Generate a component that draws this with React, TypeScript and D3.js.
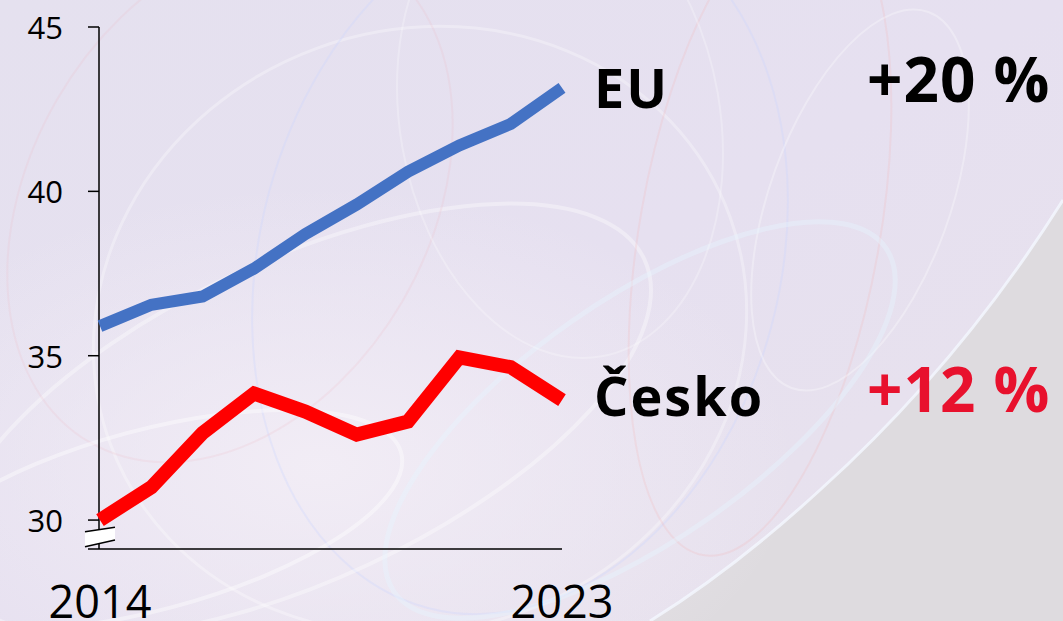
import React from "react";
import * as d3 from "d3";

const years = [2014, 2015, 2016, 2017, 2018, 2019, 2020, 2021, 2022, 2023];
const euValues = [35.9, 36.55, 36.8, 37.65, 38.7, 39.6, 40.6, 41.4, 42.05, 43.15];
const czValues = [30.0, 31.0, 32.65, 33.85, 33.3, 32.6, 33.0, 34.95, 34.65, 33.65];
const yTicks = [30, 35, 40, 45];
const xTickLabels = ["2014", "2023"];
const seriesLabels = ["EU", "Česko"];
const changeLabels = ["+20 %", "+12 %"];

const W = 1063;
const H = 621;

export default function App() {
  const x = d3.scaleLinear().domain([2014, 2023]).range([100, 562]);
  const y = d3.scaleLinear().domain([29.12, 45]).range([549, 27]);
  const line = d3
    .line<number>()
    .x((_, i) => x(years[i]))
    .y((d) => y(d));

  const arcs = [
    { cx: 420, cy: 330, rx: 330, ry: 300, rot: -20, c: "#ffffff", o: 0.3, w: 3 },
    { cx: 520, cy: 260, rx: 260, ry: 360, rot: 15, c: "#c9d4ff", o: 0.3, w: 2 },
    { cx: 300, cy: 420, rx: 380, ry: 160, rot: -25, c: "#ffffff", o: 0.35, w: 4 },
    { cx: 760, cy: 230, rx: 120, ry: 330, rot: 10, c: "#f4b0b0", o: 0.2, w: 2 },
    { cx: 860, cy: 200, rx: 90, ry: 200, rot: 20, c: "#ffffff", o: 0.3, w: 2 },
    { cx: 230, cy: 200, rx: 200, ry: 280, rot: 30, c: "#f0b8c0", o: 0.18, w: 2 },
    { cx: 640, cy: 420, rx: 300, ry: 120, rot: -35, c: "#e6f6ff", o: 0.4, w: 5 },
    { cx: 150, cy: 520, rx: 260, ry: 90, rot: -15, c: "#ffffff", o: 0.4, w: 4 },
    { cx: 560, cy: 120, rx: 160, ry: 240, rot: -10, c: "#ffffff", o: 0.25, w: 2 },
  ];

  return (
    <svg width={W} height={H} style={{ position: "absolute", left: 0, top: 0 }}>
      <defs>
        <linearGradient id="bg" x1="0" y1="0" x2="1" y2="1">
          <stop offset="0" stopColor="#e5e1ef" />
          <stop offset="0.5" stopColor="#e6e0f0" />
          <stop offset="1" stopColor="#e8e2ec" />
        </linearGradient>
        <radialGradient id="glow" cx="0.3" cy="0.75" r="0.45">
          <stop offset="0" stopColor="#f3eef6" stopOpacity="0.9" />
          <stop offset="1" stopColor="#f3eef6" stopOpacity="0" />
        </radialGradient>
      </defs>
      <rect width={W} height={H} fill="url(#bg)" />
      <path
        d="M1063,200 C1000,300 920,400 820,490 C760,545 700,590 650,621 L1063,621 Z"
        fill="#dedbdf"
      />
      <rect width={W} height={H} fill="url(#glow)" />
      {arcs.map((a, i) => (
        <ellipse
          key={i}
          cx={a.cx}
          cy={a.cy}
          rx={a.rx}
          ry={a.ry}
          transform={`rotate(${a.rot} ${a.cx} ${a.cy})`}
          fill="none"
          stroke={a.c}
          strokeOpacity={a.o}
          strokeWidth={a.w}
        />
      ))}
      <path
        d="M1063,200 C1000,300 920,400 820,490 C760,545 700,590 650,621"
        fill="none"
        stroke="#f4f8ff"
        strokeOpacity={0.8}
        strokeWidth={3}
      />

      {/* axes */}
      <line x1={99} x2={99} y1={y(45)} y2={549} stroke="#000" strokeWidth={1.5} />
      <line x1={88} x2={562} y1={549} y2={549} stroke="#000" strokeWidth={1.5} />
      {yTicks.map((t) => (
        <g key={t}>
          <line x1={88} x2={99} y1={y(t)} y2={y(t)} stroke="#000" strokeWidth={1.5} />
          <text
            x={63}
            y={y(t)}
            textAnchor="end"
            dominantBaseline="central"
            fontFamily="'Open Sans', sans-serif"
            fontSize={31}
            fill="#000"
          >
            {t}
          </text>
        </g>
      ))}
      {/* axis break */}
      <path d="M85,531.7 L115,527.3 L115,540 L85,546.7 Z" fill="#ffffff" />
      <line x1={85} y1={531.7} x2={115} y2={527.3} stroke="#000" strokeWidth={1.5} />
      <line x1={85} y1={546.7} x2={115} y2={540} stroke="#000" strokeWidth={1.5} />

      {xTickLabels.map((l) => (
        <text
          key={l}
          x={x(+l)}
          y={618}
          textAnchor="middle"
          fontFamily="'Open Sans', sans-serif"
          fontSize={45}
          fill="#000"
        >
          {l}
        </text>
      ))}

      <path d={line(euValues) || ""} fill="none" stroke="#4472c4" strokeWidth={12} strokeLinejoin="miter" />
      <path d={line(czValues) || ""} fill="none" stroke="#ff0000" strokeWidth={14} strokeLinejoin="miter" />

      <text x={594} y={108} fontFamily="'Open Sans', sans-serif" fontWeight={700} fontSize={54} letterSpacing={2} fill="#000">
        {seriesLabels[0]}
      </text>
      <text x={594} y={416} fontFamily="'Open Sans', sans-serif" fontWeight={700} fontSize={54} letterSpacing={2} fill="#000">
        {seriesLabels[1]}
      </text>
      <text x={867} y={102} fontFamily="'Open Sans', sans-serif" fontWeight={700} fontSize={62} letterSpacing={1} fill="#000">
        {changeLabels[0]}
      </text>
      <text x={867} y={412} fontFamily="'Open Sans', sans-serif" fontWeight={700} fontSize={62} letterSpacing={1} fill="#e8112d">
        {changeLabels[1]}
      </text>
    </svg>
  );
}
